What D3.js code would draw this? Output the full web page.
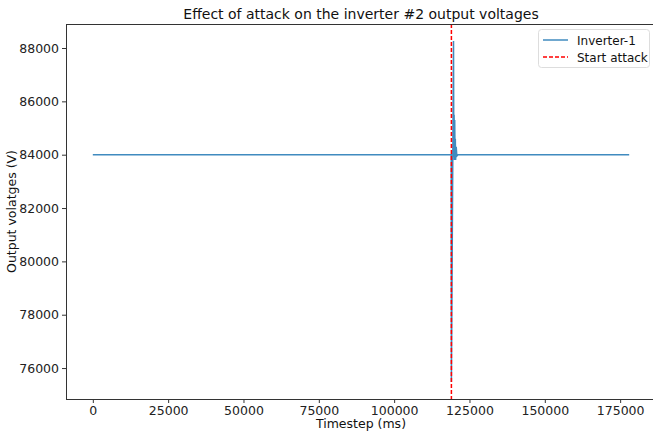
<!DOCTYPE html>
<html>
<head>
<meta charset="utf-8">
<script src="https://cdn.jsdelivr.net/npm/d3@7"></script>
<style>
body { margin: 0; background: white; }
text { font-family: "DejaVu Sans", sans-serif; }
</style>
</head>
<body>
<script>
// values
var timesteps = [0, 10000, 20000, 30000, 40000, 50000, 60000, 70000, 80000, 90000, 100000, 110000, 118950,
  119000, 119700, 119800, 119900, 120000, 120100, 120200, 120300, 120400, 120600, 120800, 121200,
  130000, 140000, 150000, 160000, 170000, 178000];
var voltages = [84000, 84001, 83999, 84001, 84000, 83999, 84001, 84000, 83999, 84001, 84000, 83999, 84000,
  75480, 88260, 83900, 85500, 83800, 85300, 83900, 84600, 83800, 84300, 83950, 84000,
  84001, 83999, 84000, 84001, 83999, 84000];
var attackAt = [119000];
var xTicks = [0, 25000, 50000, 75000, 100000, 125000, 150000, 175000];
var yTicks = [76000, 78000, 80000, 82000, 84000, 86000, 88000];
var seriesNames = ["Inverter-1", "Start attack"];

var W = 653, H = 432;
var m = {left: 66, top: 24, right: 656, bottom: 399};

var svg = d3.select("body").append("svg").attr("width", W).attr("height", H);

var x = d3.scaleLinear().domain([-8900, 186900]).range([m.left, m.right]);
var y = d3.scaleLinear().domain([74840, 88900]).range([m.bottom, m.top]);

var pts = timesteps.map(function(t, i) { return [t, voltages[i]]; });

var line = d3.line().x(function(d) { return x(d[0]); }).y(function(d) { return y(d[1]); });

svg.append("path").datum(pts)
  .attr("d", line)
  .attr("fill", "none")
  .attr("stroke", "#1f77b4")
  .attr("stroke-width", 1.5)
  .attr("stroke-opacity", 0.85);

svg.selectAll(".attack").data(attackAt).enter().append("line")
  .attr("x1", function(d) { return x(d); }).attr("x2", function(d) { return x(d); })
  .attr("y1", m.top).attr("y2", m.bottom)
  .attr("stroke", "red").attr("stroke-width", 1.5)
  .attr("stroke-dasharray", "4,2");

// axes
var xAxis = svg.append("g").attr("transform", "translate(0," + m.bottom + ")")
  .call(d3.axisBottom(x).tickValues(xTicks).tickFormat(d3.format("d")).tickSizeOuter(0).tickSize(4).tickPadding(3));
var yAxis = svg.append("g").attr("transform", "translate(" + m.left + ",0)")
  .call(d3.axisLeft(y).tickValues(yTicks).tickFormat(d3.format("d")).tickSizeOuter(0).tickSize(4).tickPadding(3));
[xAxis, yAxis].forEach(function(a) {
  a.selectAll("text").attr("font-size", 12.5).attr("fill", "#222").style("font-family", "DejaVu Sans");
  a.selectAll(".tick line").attr("stroke", "#333");
  a.select(".domain").remove();
});

// spines
var spines = svg.append("g").attr("stroke", "#333").attr("fill", "none");
spines.append("line").attr("x1", m.left).attr("x2", m.right).attr("y1", m.top + 0.5).attr("y2", m.top + 0.5);
spines.append("line").attr("x1", m.left).attr("x2", m.right).attr("y1", m.bottom + 0.5).attr("y2", m.bottom + 0.5);
spines.append("line").attr("x1", m.left + 0.5).attr("x2", m.left + 0.5).attr("y1", m.top).attr("y2", m.bottom + 1);

// titles
svg.append("text").attr("x", 361).attr("y", 19).attr("text-anchor", "middle")
  .attr("font-size", 14).attr("fill", "#111").text("Effect of attack on the inverter #2 output voltages");
svg.append("text").attr("x", 361).attr("y", 428).attr("text-anchor", "middle")
  .attr("font-size", 12.5).attr("fill", "#111").text("Timestep (ms)");
svg.append("text").attr("transform", "translate(16," + ((m.top + m.bottom) / 2) + ") rotate(-90)")
  .attr("text-anchor", "middle").attr("font-size", 12.5).attr("fill", "#111").text("Output volatges (V)");

// legend
var lg = svg.append("g");
lg.append("rect").attr("x", 538.5).attr("y", 29.5).attr("width", 111).attr("height", 38).attr("rx", 3)
  .attr("fill", "white").attr("fill-opacity", 0.8).attr("stroke", "#ddd");
var styles = [{c: "#1f77b4", d: null}, {c: "red", d: "4,2"}];
seriesNames.forEach(function(n, i) {
  var yy = 40 + i * 17;
  lg.append("line").attr("x1", 543).attr("x2", 568).attr("y1", yy).attr("y2", yy)
    .attr("stroke", styles[i].c).attr("stroke-width", 1.5).attr("stroke-dasharray", styles[i].d)
    .attr("stroke-opacity", i === 0 ? 0.85 : 1);
  lg.append("text").attr("x", 577).attr("y", yy + 4.5).attr("font-size", 12).attr("fill", "#111").text(n);
});
</script>
</body>
</html>
